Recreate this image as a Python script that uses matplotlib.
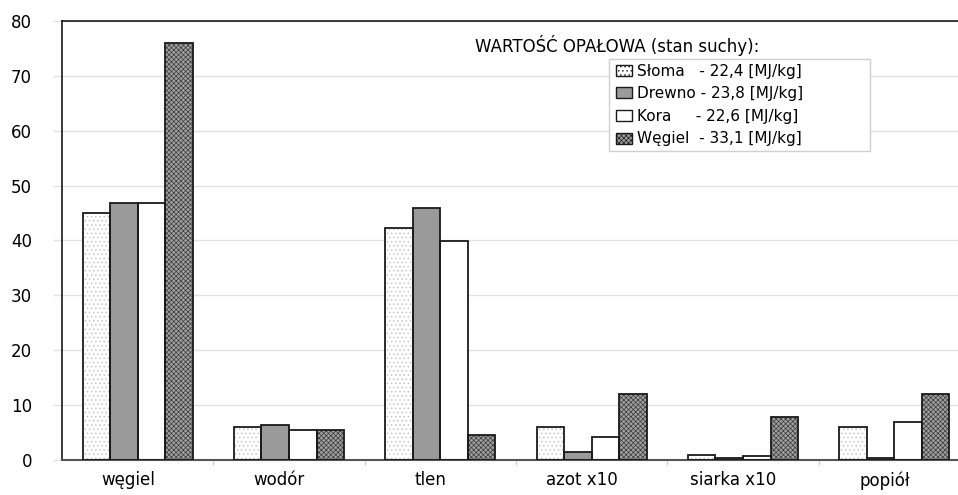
import numpy as np
import matplotlib.pyplot as plt
from matplotlib.patches import Patch, Rectangle

plt.rcParams['font.family'] = ['DejaVu Sans']
plt.rcParams['hatch.linewidth'] = 0.5

# ==========================================================
# Data
# ==========================================================

categories = ["węgiel", "wodór", "tlen", "azot x10", "siarka x10", "popiół"]

sloma = [45.0, 6.0, 42.2, 6.0, 0.9, 6.0]
drewno = [46.9, 6.3, 45.9, 1.5, 0.4, 0.4]
kora = [46.9, 5.5, 39.9, 4.2, 0.7, 7.0]
wegiel = [75.9, 5.5, 4.5, 12.0, 7.9, 12.0]

series_labels = [
    "Słoma   - 22,4 [MJ/kg]",
    "Drewno - 23,8 [MJ/kg]",
    "Kora     - 22,6 [MJ/kg]",
    "Węgiel  - 33,1 [MJ/kg]",
]

# ==========================================================
# Styles: (face, hatch, hatch colour)
# ==========================================================

styles = [
    ("white", "....", "#c0c0c0"),
    ("#9a9a9a", "", "#9a9a9a"),
    ("white", "", "white"),
    ("#a0a0a0", "xxxxxxx", "#3a3a3a"),
]

# ==========================================================
# Figure
# ==========================================================

fig = plt.figure(figsize=(9.58, 4.95), dpi=100)
ax = fig.add_axes([0.0647, 0.0707, 0.9478, 0.8869])

x = np.arange(len(categories))
width = 0.182

all_series = [sloma, drewno, kora, wegiel]

for i, values in enumerate(all_series):
    face, hatch, hcol = styles[i]
    pos = x + (i - 1.5) * width
    # fill + hatch
    ax.bar(pos, values, width, color=face, hatch=hatch,
           edgecolor=hcol, linewidth=0, zorder=2)
    # outline
    ax.bar(pos, values, width, fill=False,
           edgecolor="#1a1a1a", linewidth=1.3, zorder=3)

ax.set_xlim(-0.5, len(categories) - 0.5)
ax.set_ylim(0, 80)
ax.set_yticks(np.arange(0, 81, 10))

ax.yaxis.grid(True, color="#e2e2e2", linewidth=1.0, zorder=0)
ax.set_axisbelow(True)

# category labels (slightly left of group centres, as in the original)
ax.set_xticks(x - 0.065)
ax.set_xticklabels(categories, fontsize=12)
ax.tick_params(axis="x", length=0, pad=8)

# group boundary ticks
ax.set_xticks(np.arange(0.5, len(categories) - 0.5, 1.0), minor=True)
ax.tick_params(axis="x", which="minor", length=3.6, color="#d0d0d0", width=1)

ax.tick_params(axis="y", length=6.5, color="#e2e2e2", width=1,
               labelsize=12, pad=15)

for s in ["left", "top"]:
    ax.spines[s].set_color("#1a1a1a")
    ax.spines[s].set_linewidth(1.2)
ax.spines["bottom"].set_color("#555555")
ax.spines["bottom"].set_linewidth(1.5)
ax.spines["right"].set_visible(False)

# ==========================================================
# Legend
# ==========================================================

fig.text(617 / 958, 1 - 45 / 495, "WARTOŚĆ OPAŁOWA (stan suchy):",
         fontsize=12, ha="center", va="center")

# legend frame (wider than the entries, as in the original)
fig.patches.append(Rectangle(
    (609 / 958, 1 - 151 / 495), (870 - 609) / 958, (151 - 59) / 495,
    transform=fig.transFigure, facecolor="white",
    edgecolor="#cfcfcf", linewidth=1.0, zorder=5,
))

handles = []
for i in range(4):
    face, hatch, hcol = styles[i]
    handles.append(Patch(facecolor=face, hatch=hatch,
                         edgecolor="#1a1a1a", linewidth=1.0))

leg = fig.legend(
    handles, series_labels,
    loc="upper left",
    bbox_to_anchor=(611 / 958, 1 - 59 / 495),
    fontsize=11,
    frameon=False,
    borderpad=0.3,
    labelspacing=0.5,
    handlelength=1.05,
    handleheight=0.75,
    handletextpad=0.35,
    borderaxespad=0,
)
leg.set_zorder(6)

plt.savefig("out.png", dpi=100)
